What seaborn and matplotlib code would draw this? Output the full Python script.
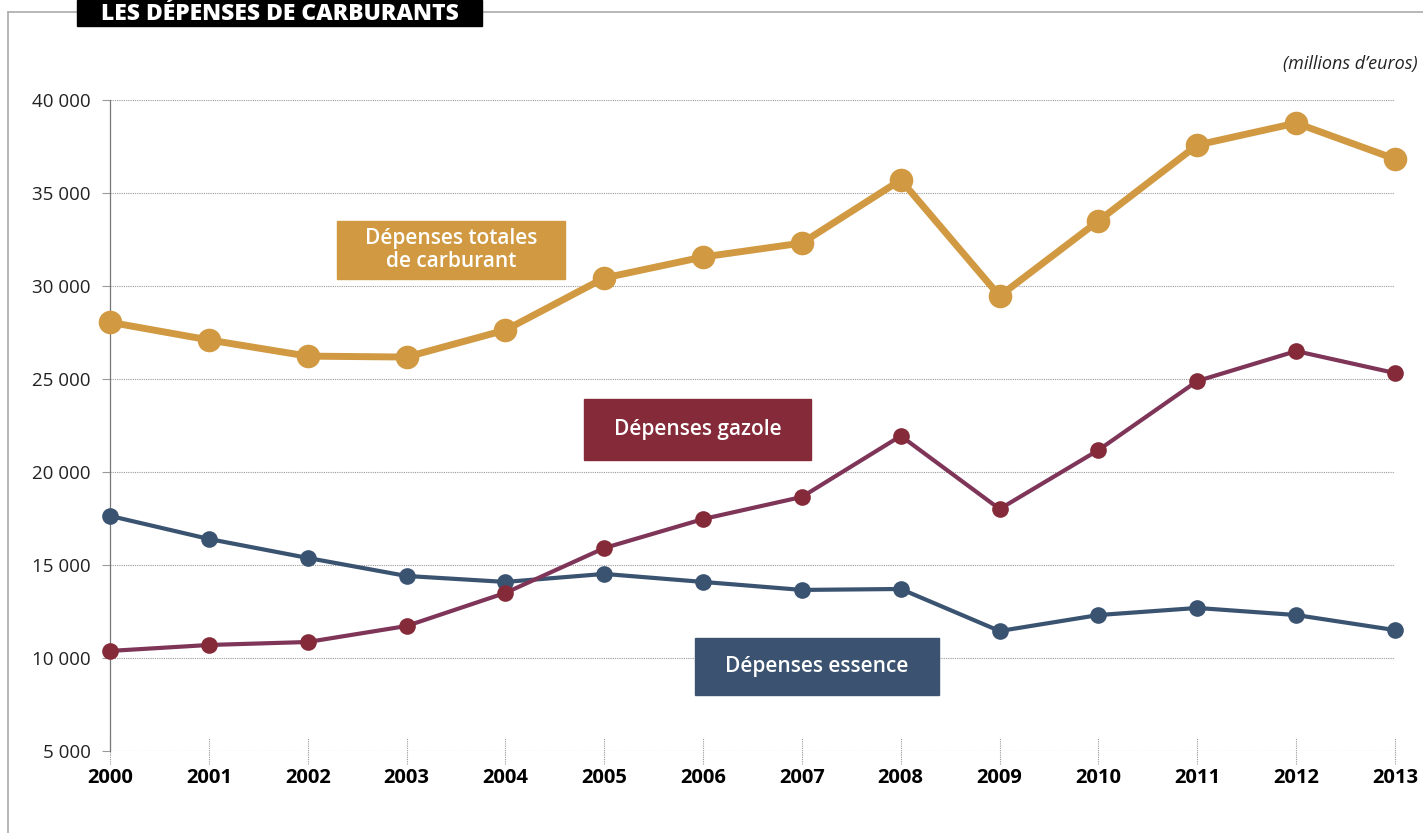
import pandas as pd
import numpy as np
import matplotlib.pyplot as plt
import seaborn as sns
from matplotlib.patches import Rectangle
from matplotlib.lines import Line2D

# data (millions d'euros)
years = list(range(2000, 2014))
total = [28050, 27100, 26230, 26180, 27630, 30430, 31560, 32310, 35700, 29460, 33500, 37580, 38760, 36830]
gazole = [10380, 10700, 10860, 11720, 13500, 15910, 17470, 18660, 21940, 18010, 21180, 24890, 26500, 25320]
essence = [17640, 16400, 15380, 14410, 14090, 14520, 14090, 13660, 13710, 11450, 12310, 12690, 12310, 11500]
y_ticks = [5000, 10000, 15000, 20000, 25000, 30000, 35000, 40000]
y_labels = ["5 000", "10 000", "15 000", "20 000", "25 000", "30 000", "35 000", "40 000"]

df = pd.DataFrame({"Année": years, "Total": total, "Gazole": gazole, "Essence": essence})

sns.set_style("white")
plt.rcParams['font.family'] = ['Open Sans', 'DejaVu Sans']

W, H = 1423, 833
fig = plt.figure(figsize=(W / 100, H / 100), dpi=100)
ax = fig.add_axes([110 / W, 1 - 751 / H, (1395 - 110) / W, (751 - 100) / H])

c_tot = "#D19A42"
c_gaz_line = "#7E3558"
c_gaz = "#852A39"
c_ess = "#3A5371"

sns.lineplot(data=df, x="Année", y="Essence", ax=ax, color=c_ess, linewidth=3,
             marker="o", markersize=12, markeredgewidth=0, markerfacecolor=c_ess, clip_on=False, zorder=3)
sns.lineplot(data=df, x="Année", y="Gazole", ax=ax, color=c_gaz_line, linewidth=3,
             marker="o", markersize=12, markeredgewidth=0, markerfacecolor=c_gaz, clip_on=False, zorder=4)
sns.lineplot(data=df, x="Année", y="Total", ax=ax, color=c_tot, linewidth=5,
             marker="o", markersize=17, markeredgewidth=0, clip_on=False, zorder=5)

ax.set_xlim(2000, 2013)
ax.set_ylim(5000, 40000)
ax.set_xticks(years)
ax.set_xticklabels([str(y) for y in years], fontsize=14.5, fontweight="bold", color="black")
ax.set_yticks(y_ticks)
ax.set_yticklabels(y_labels, fontsize=13.5, color="#222222")
ax.set_xlabel("")
ax.set_ylabel("")

ax.grid(axis="y", color="#9a9a9a", linestyle=(0, (1, 1)), linewidth=0.8)
for s in ["top", "right", "bottom"]:
    ax.spines[s].set_visible(False)
ax.spines["left"].set_color("#777777")
ax.spines["left"].set_linewidth(0.9)
ax.tick_params(axis="y", length=6, color="#9a9a9a", width=0.8, pad=8, left=True)
ax.tick_params(axis="x", length=0, pad=12)

# x ticks crossing the base line
for yr in years:
    ax.add_line(Line2D([yr, yr], [-0.02, 0.02], transform=ax.get_xaxis_transform(),
                       color="#9a9a9a", linewidth=0.8, linestyle=(0, (1, 1)), clip_on=False))

# frame around the chart
fig.add_artist(Line2D([8 / W, 8 / W], [0, 1 - 12 / H], color="#aaaaaa", linewidth=1.2))
fig.add_artist(Line2D([8 / W, 1], [1 - 12 / H, 1 - 12 / H], color="#aaaaaa", linewidth=1.2))

# title block
fig.add_artist(Rectangle((77 / W, 1 - 26 / H), (482 - 77) / W, 26 / H, color="black", zorder=5))
fig.text((77 + 482) / 2 / W, 1 - 20 / H, "LES DÉPENSES DE CARBURANTS", color="white",
         fontsize=16.5, fontweight="heavy", ha="center", va="baseline", zorder=6)

fig.text(1418 / W, 1 - 64 / H, "(millions d\u2019euros)", fontsize=13, style="italic",
         ha="right", va="center", color="#222222")

# label boxes
def label_box(x0, y0, x1, y1, color, txt):
    fig.add_artist(Rectangle((x0 / W, 1 - y1 / H), (x1 - x0) / W, (y1 - y0) / H, color=color, zorder=6))
    fig.text((x0 + x1) / 2 / W, 1 - (y0 + y1) / 2 / H, txt, color="white", fontsize=15,
             fontweight="semibold", ha="center", va="center", linespacing=1.15, zorder=7)

label_box(337, 221, 565, 279, c_tot, "Dépenses totales\nde carburant")
label_box(584, 399, 811, 460, c_gaz, "Dépenses gazole")
label_box(695, 638, 939, 695, "#3B5370", "Dépenses essence")

fig.savefig("out.png", dpi=100)
